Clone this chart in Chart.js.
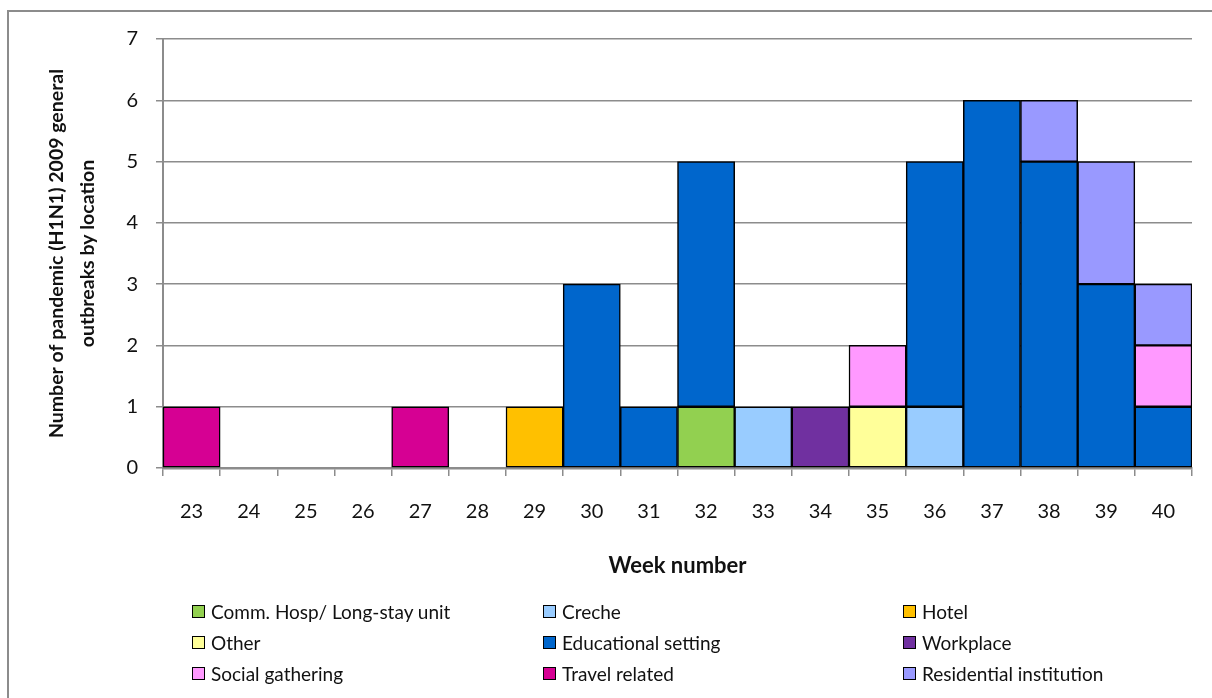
<!DOCTYPE html>
<html>
<head>
<meta charset="utf-8">
<script src="https://cdn.jsdelivr.net/npm/chart.js@4.4.1/dist/chart.umd.min.js"></script>
<style>
  html, body { margin: 0; padding: 0; background: #ffffff; overflow: hidden; }
  #frame {
    position: absolute; left: 7px; top: 10px; width: 1230px; height: 720px;
    border: 2px solid #8c8c8c; box-sizing: border-box;
  }
  #chartBox { position: absolute; left: 0; top: 0; width: 1212px; height: 600px; }
  #legend { position: absolute; left: 0; top: 0; width: 1212px; height: 698px; pointer-events: none; }
  .item {
    position: absolute; display: flex; align-items: center; height: 24px;
    font-family: Lato, "Open Sans", sans-serif; font-size: 19px; color: #111;
    white-space: nowrap;
  }
  .swatch {
    width: 11px; height: 11px; border: 1.5px solid #000; margin-right: 6px; flex: none;
  }
</style>
</head>
<body>
<div id="frame"></div>
<div id="chartBox"><canvas id="chart" width="1212" height="600"></canvas></div>
<div id="legend"></div>
<script>
// Week numbers along the x axis
const weeks = ['23','24','25','26','27','28','29','30','31','32','33','34','35','36','37','38','39','40'];

// Outbreaks per week, one array per location type (stacked bottom to top in this order)
const commHospLongStay  = [0,0,0,0,0,0,0,0,0,1,0,0,0,0,0,0,0,0];
const creche            = [0,0,0,0,0,0,0,0,0,0,1,0,0,1,0,0,0,0];
const hotel             = [0,0,0,0,0,0,1,0,0,0,0,0,0,0,0,0,0,0];
const other             = [0,0,0,0,0,0,0,0,0,0,0,0,1,0,0,0,0,0];
const educational       = [0,0,0,0,0,0,0,3,1,4,0,0,0,4,6,5,3,1];
const workplace         = [0,0,0,0,0,0,0,0,0,0,0,1,0,0,0,0,0,0];
const socialGathering   = [0,0,0,0,0,0,0,0,0,0,0,0,1,0,0,0,0,1];
const travelRelated     = [1,0,0,0,1,0,0,0,0,0,0,0,0,0,0,0,0,0];
const residentialInst   = [0,0,0,0,0,0,0,0,0,0,0,0,0,0,0,1,2,1];

// Y axis range
const yTicks = [0,1,2,3,4,5,6,7];

const seriesDefs = [
  { label: 'Comm. Hosp/ Long-stay unit', values: commHospLongStay, color: '#92d050' },
  { label: 'Creche',                    values: creche,           color: '#99ccff' },
  { label: 'Hotel',                     values: hotel,            color: '#ffc000' },
  { label: 'Other',                     values: other,            color: '#ffff99' },
  { label: 'Educational setting',       values: educational,      color: '#0066cc' },
  { label: 'Workplace',                 values: workplace,        color: '#7030a0' },
  { label: 'Social gathering',          values: socialGathering,  color: '#ff99ff' },
  { label: 'Travel related',            values: travelRelated,    color: '#d60093' },
  { label: 'Residential institution',   values: residentialInst,  color: '#9999ff' }
];

const FONT = 'Lato, "Open Sans", sans-serif';
const GRID = '#8c8c8c';

const datasets = seriesDefs.map(s => ({
  label: s.label,
  // empty weeks are left out so no zero-height outline is drawn
  data: s.values.map(v => v === 0 ? null : v),
  backgroundColor: s.color,
  borderColor: '#000000',
  borderWidth: 1.5,
  borderSkipped: false,
  barPercentage: 1.0,
  categoryPercentage: 1.0
}));

const chart = new Chart(document.getElementById('chart'), {
  type: 'bar',
  data: { labels: weeks, datasets },
  options: {
    responsive: false,
    animation: false,
    events: [],
    layout: { padding: { left: 0, right: 20, top: 39, bottom: 0 } },
    plugins: {
      legend: { display: false },
      tooltip: { enabled: false }
    },
    scales: {
      x: {
        stacked: true,
        z: 1,
        grid: {
          offset: true,
          drawOnChartArea: false,
          drawTicks: true,
          tickLength: 8,
          color: GRID,
          lineWidth: 1.5
        },
        border: { display: true, color: GRID, width: 2.5 },
        ticks: {
          color: '#111',
          font: { family: FONT, size: 20 },
          padding: 24,
          maxRotation: 0,
          autoSkip: false
        },
        title: {
          display: true,
          text: 'Week number',
          color: '#111',
          font: { family: FONT, size: 22, weight: 'bold' },
          padding: { top: 0, bottom: 21 }
        },
        afterFit: s => { s.height = 132; }
      },
      y: {
        stacked: true,
        min: yTicks[0],
        max: yTicks[yTicks.length - 1],
        afterBuildTicks: s => { s.ticks = yTicks.map(v => ({ value: v })); },
        grid: {
          color: GRID,
          lineWidth: 1.5,
          drawTicks: true,
          tickLength: 7
        },
        border: { display: true, color: GRID, width: 2 },
        ticks: {
          color: '#111',
          font: { family: FONT, size: 20 },
          padding: 18
        },
        title: {
          display: true,
          text: ['Number of pandemic (H1N1) 2009 general', 'outbreaks by location'],
          color: '#111',
          font: { family: FONT, size: 19.5, weight: 'bold', lineHeight: 1.6 },
          padding: { top: 41, bottom: 0 }
        },
        afterFit: s => { s.width = 163; }
      }
    }
  }
});

// Legend: three columns, filled row by row
const legendCols = [192, 543, 903];
const legendRows = [611, 642, 673];
const legendEl = document.getElementById('legend');
chart.data.datasets.forEach((ds, i) => {
  const item = document.createElement('div');
  item.className = 'item';
  item.style.left = legendCols[i % 3] + 'px';
  item.style.top = (legendRows[Math.floor(i / 3)] - 12) + 'px';
  const sw = document.createElement('span');
  sw.className = 'swatch';
  sw.style.background = ds.backgroundColor;
  const tx = document.createElement('span');
  tx.textContent = ds.label;
  item.appendChild(sw);
  item.appendChild(tx);
  legendEl.appendChild(item);
});
</script>
</body>
</html>
